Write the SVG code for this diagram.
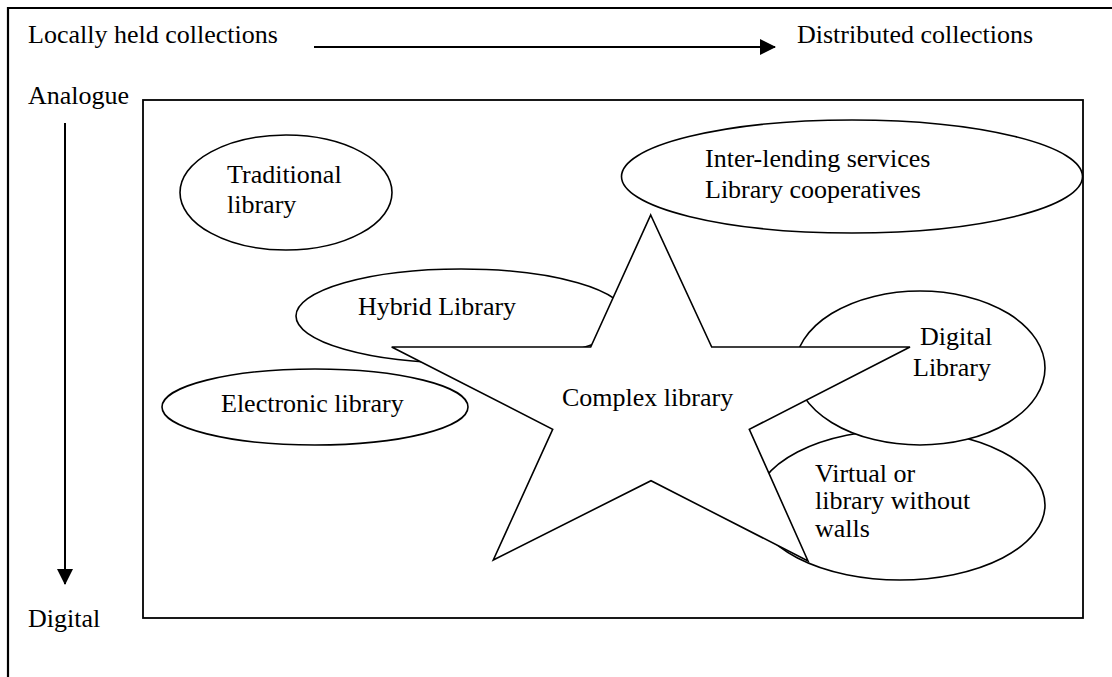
<svg xmlns="http://www.w3.org/2000/svg" width="1112" height="677" viewBox="0 0 1112 677">
<style>
text{font-family:"Liberation Serif","Times New Roman",Times,Tinos,"Noto Serif","DejaVu Serif","FreeSerif",serif;font-size:26px;fill:#000}
.shape{fill:#fff;stroke:#000;stroke-width:1.6}
.frame{fill:none;stroke:#000;stroke-width:2.2}
.conn{fill:none;stroke:#000;stroke-width:2}
</style>
<defs>
<marker id="ah" viewBox="0 0 16 16" refX="15" refY="8" markerWidth="16" markerHeight="16" markerUnits="userSpaceOnUse" orient="auto">
<path d="M0,0 L16,8 L0,16 Z" fill="#000"/>
</marker>
</defs>
<rect width="1112" height="677" fill="#fff"/>
<path class="frame" d="M8,677 V8 H1112"/>
<rect x="143" y="100" width="940" height="518" fill="none" stroke="#000" stroke-width="1.8"/>
<g id="axis-labels">
<text x="28" y="43">Locally held collections</text>
<text x="797" y="43">Distributed collections</text>
<text x="28" y="104">Analogue</text>
<text x="28" y="627">Digital</text>
</g>
<g id="connectors">
<line class="conn" x1="314" y1="47" x2="775" y2="47" marker-end="url(#ah)"/>
<line class="conn" x1="65" y1="123" x2="65" y2="584" marker-end="url(#ah)"/>
</g>
<g id="traditional">
<ellipse class="shape" cx="286" cy="192.5" rx="106" ry="57.5"/>
<text x="227" y="183">Traditional</text>
<text x="227" y="213">library</text>
</g>
<g id="interlending">
<ellipse class="shape" cx="852" cy="176.5" rx="230.5" ry="56.5"/>
<text x="705" y="167">Inter-lending services</text>
<text x="705" y="198">Library cooperatives</text>
</g>
<g id="hybrid">
<ellipse class="shape" cx="461" cy="316" rx="165" ry="47"/>
<text x="358" y="315">Hybrid Library</text>
</g>
<g id="electronic">
<ellipse class="shape" cx="315" cy="407" rx="153" ry="38"/>
<text x="221" y="412">Electronic library</text>
</g>
<g id="virtual">
<ellipse class="shape" cx="900" cy="505" rx="145" ry="75"/>
<text x="815" y="482">Virtual or</text>
<text x="815" y="509">library without</text>
<text x="815" y="537">walls</text>
</g>
<g id="digital">
<ellipse class="shape" cx="920" cy="368" rx="125" ry="77"/>
<text x="920" y="345">Digital</text>
<text x="913" y="376">Library</text>
</g>
<g id="complex">
<polygon class="shape" points="650.7,215 711.7,347 910,347 749.3,429.3 808,561 651,480.7 493.3,560 552.7,429.3 391.7,347 590.7,347"/>
<text x="562" y="406">Complex library</text>
</g>
</svg>
